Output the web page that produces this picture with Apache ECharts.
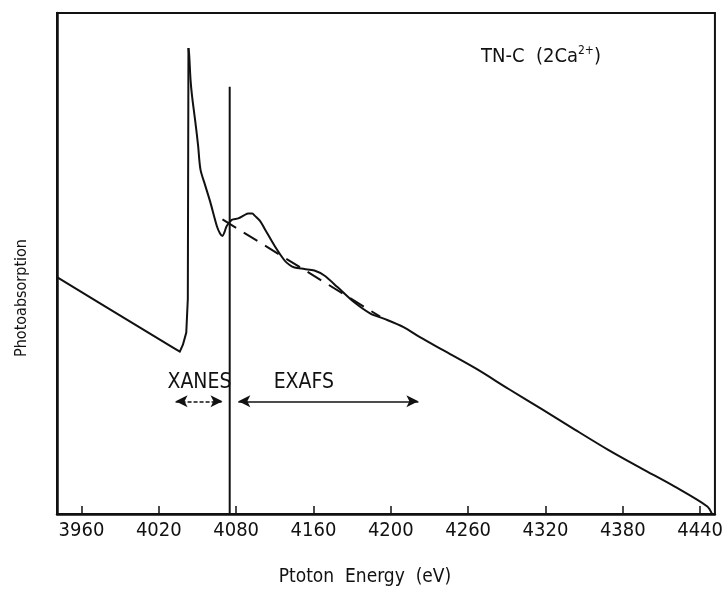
<!DOCTYPE html>
<html>
<head>
<meta charset="utf-8">
<script src="https://cdn.jsdelivr.net/npm/echarts@6/dist/echarts.min.js"></script>
<style>html,body{margin:0;padding:0;background:#fff;}#c{width:726px;height:592px;}</style>
</head>
<body>
<div id="c"></div>
<script>
// Photon energy (eV) and photoabsorption (arbitrary units, 0-100)
const energy = [3941.0, 3974.1, 4004.8, 4030.4, 4036.3, 4038.7, 4041.3, 4042.5, 4042.8, 4043.0, 4043.6, 4044.6, 4045.8, 4048.4, 4050.5, 4052.3, 4056.1, 4060.0, 4065.0, 4067.5, 4069.4, 4071.0, 4072.7, 4076.6, 4081.7, 4086.0, 4089.4, 4092.5, 4094.6, 4098.5, 4102.2, 4109.9, 4117.6, 4121.5, 4125.3, 4133.0, 4140.7, 4148.4, 4158.6, 4171.4, 4184.2, 4194.5, 4209.9, 4222.6, 4240.6, 4266.2, 4291.8, 4317.5, 4343.1, 4368.7, 4394.4, 4420.0, 4445.6, 4449.2];
const absorption = [47.3, 42.1, 37.3, 33.3, 32.4, 33.8, 36.2, 42.9, 72.8, 93.0, 91.5, 86.7, 83.4, 78.1, 73.5, 68.8, 65.5, 62.2, 57.5, 56.0, 55.5, 56.3, 57.5, 58.7, 59.0, 59.6, 60.0, 60.0, 59.5, 58.5, 56.9, 53.5, 50.6, 49.7, 49.2, 48.9, 48.6, 47.6, 45.3, 42.3, 40.0, 39.0, 37.3, 35.3, 32.7, 29.0, 24.9, 20.9, 16.8, 12.8, 9.1, 5.5, 1.5, 0.0];
const peakIndex = 9; // white-line maximum
// Smooth atomic background (dashed)
const bgEnergy = [4069.4, 4191.7];
const bgAbsorption = [58.8, 39.4];
// XANES / EXAFS boundary
const boundaryEnergy = 4075.0;
const boundaryRange = [0, 85.3];
// Region arrows
const arrowLevel = 22.5;
const xanesRange = [4033.0, 4069.4];
const exafsRange = [4081.7, 4221.4];
const regionLabels = ['XANES', 'EXAFS'];
const regionLabelPos = [[4051.5, 26.3], [4132.5, 26.3]];
// X axis ticks and their printed labels
const tickValues = [3960, 4020, 4080, 4140, 4200, 4260, 4320, 4380, 4440];
const tickLabels = ['3960', '4020', '4080', '4160', '4200', '4260', '4320', '4380', '4440'];

const FONT = '"Liberation Sans Narrow", "DejaVu Sans Condensed", "Liberation Sans", sans-serif';
const INK = '#111';
const pts = energy.map((e, i) => [e, absorption[i]]);

const chart = echarts.init(document.getElementById('c'), null, {renderer: 'canvas'});
chart.setOption({
  animation: false,
  backgroundColor: '#fff',
  title: {
    text: 'TN-C  (2Ca{sup|2+})',
    left: 476, top: 40,
    textStyle: {
      fontFamily: FONT, fontSize: 20, fontWeight: 'normal', color: INK, lineHeight: 24,
      rich: { sup: { fontFamily: FONT, fontSize: 12, color: INK, verticalAlign: 'top', lineHeight: 24 } }
    }
  },
  graphic: [{
    type: 'text', x: 22, y: 298, rotation: Math.PI / 2,
    style: { text: 'Photoabsorption', fontFamily: FONT, fontSize: 16, fill: INK, align: 'center', verticalAlign: 'middle' }
  }],
  grid: { left: 57, right: 5, top: 13, bottom: 76, show: true, borderColor: INK, borderWidth: 2 },
  xAxis: {
    type: 'value', min: 3941, max: 4451.5,
    name: 'Ptoton  Energy  (eV)', nameLocation: 'middle', nameGap: 54,
    nameTextStyle: { fontFamily: FONT, fontSize: 19, color: INK, padding: [0, 42, 0, 0] },
    axisLine: { show: true, lineStyle: { color: INK, width: 2.5 } },
    axisTick: { show: true, inside: true, length: 8, customValues: tickValues, lineStyle: { color: INK, width: 1.5 } },
    axisLabel: {
      customValues: tickValues, margin: 7, fontFamily: FONT, fontSize: 20, color: INK,
      formatter: v => tickLabels[tickValues.indexOf(Math.round(v))] || ''
    },
    splitLine: { show: false }
  },
  yAxis: {
    type: 'value', min: 0, max: 100,
    axisLine: { show: true, lineStyle: { color: INK, width: 2.5 } },
    axisTick: { show: false }, axisLabel: { show: false }, splitLine: { show: false }
  },
  series: [
    {
      name: 'absorption-edge', type: 'line', showSymbol: false, smooth: false,
      data: pts.slice(0, peakIndex + 1),
      lineStyle: { color: INK, width: 2, join: 'round' }
    },
    {
      name: 'absorption', type: 'line', showSymbol: false, smooth: 0.3,
      data: pts.slice(peakIndex),
      lineStyle: { color: INK, width: 2, join: 'round' }
    },
    {
      name: 'background', type: 'line', showSymbol: false,
      data: bgEnergy.map((e, i) => [e, bgAbsorption[i]]),
      lineStyle: { color: INK, width: 2, type: [16, 9] }
    },
    {
      name: 'boundary', type: 'line', showSymbol: false,
      data: boundaryRange.map(v => [boundaryEnergy, v]),
      lineStyle: { color: INK, width: 2 }
    },
    {
      name: 'regions', type: 'scatter', symbolSize: 0,
      itemStyle: { opacity: 1 },
      data: regionLabelPos.map((p, i) => ({ value: p, name: regionLabels[i] })),
      label: { show: true, formatter: '{b}', position: 'inside', fontFamily: FONT, fontSize: 21, color: INK, opacity: 1 },
      markLine: {
        silent: true, symbol: ['arrow', 'arrow'], symbolSize: [9, 12],
        label: { show: false },
        data: [
          [{ coord: [xanesRange[0], arrowLevel], lineStyle: { type: [4, 2], width: 1.5, color: INK } }, { coord: [xanesRange[1], arrowLevel] }],
          [{ coord: [exafsRange[0], arrowLevel], lineStyle: { type: 'solid', width: 1.5, color: INK } }, { coord: [exafsRange[1], arrowLevel] }]
        ]
      }
    }
  ]
});
</script>
</body>
</html>
